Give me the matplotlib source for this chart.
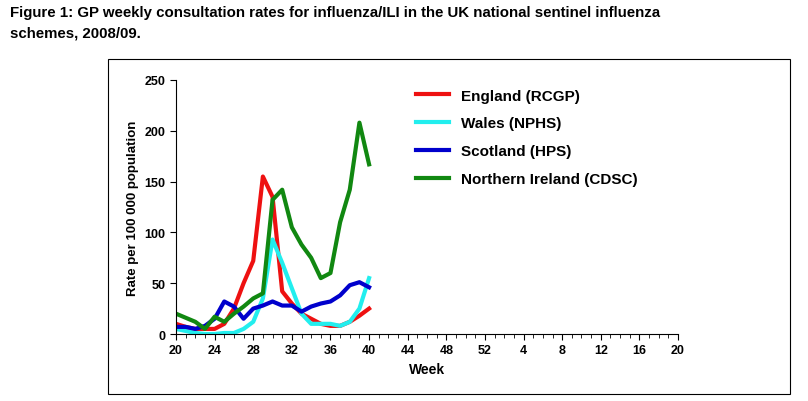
import matplotlib
matplotlib.use("Agg")
import matplotlib.pyplot as plt
from matplotlib.patches import Rectangle

plt.rcParams['font.family'] = ['Liberation Sans', 'DejaVu Sans']

weeks = list(range(20, 41))
england = [10, 7, 5, 5, 5, 10, 25, 50, 72, 155, 135, 42, 30, 20, 15, 10, 8, 8, 12, 18, 25]
wales = [5, 3, 1, 0, 0, 1, 1, 5, 12, 35, 93, 70, 45, 20, 10, 10, 10, 8, 12, 25, 55]
scotland = [7, 7, 5, 8, 15, 32, 27, 15, 25, 28, 32, 28, 28, 22, 27, 30, 32, 38, 48, 51, 46]
nireland = [20, 16, 12, 5, 17, 12, 20, 27, 35, 40, 132, 142, 105, 88, 75, 55, 60, 110, 142, 208, 167]
tick_labels = ["20", "24", "28", "32", "36", "40", "44", "48", "52", "4", "8", "12", "16", "20"]

fig = plt.figure(figsize=(8.08, 4.02), dpi=100)
fig.text(0.012, 0.985, "Figure 1: GP weekly consultation rates for influenza/ILI in the UK national sentinel influenza",
         fontsize=10.8, fontweight="bold", va="top", ha="left")
fig.text(0.012, 0.935, "schemes, 2008/09.", fontsize=10.8, fontweight="bold", va="top", ha="left")
fig.patches.append(Rectangle((108/808, 7/402), 682/808, 335/402, transform=fig.transFigure,
                             fill=False, edgecolor="black", lw=0.8))
ax = fig.add_axes([176/808, 1-335/402, 502/808, 254/402])
x = [w - 20 for w in weeks]
ax.plot(x, england, color="#ee1111", lw=3, label="England (RCGP)")
ax.plot(x, wales, color="#22eeee", lw=3, label="Wales (NPHS)")
ax.plot(x, scotland, color="#0000cc", lw=3, label="Scotland (HPS)")
ax.plot(x, nireland, color="#118811", lw=3, label="Northern Ireland (CDSC)")
ax.set_xlim(0, 52)
ax.set_ylim(0, 250)
ax.set_xticks(range(0, 53, 4))
ax.set_xticklabels(tick_labels)
ax.set_xticks(range(0, 53), minor=True)
ax.set_yticks(range(0, 251, 50))
for s in ["top", "right"]:
    ax.spines[s].set_visible(False)
ax.tick_params(labelsize=9, length=4, direction="out")
ax.tick_params(which="minor", length=3, direction="out")
for lab in ax.get_xticklabels() + ax.get_yticklabels():
    lab.set_fontweight("bold")
ax.set_xlabel("Week", fontsize=10, fontweight="bold")
ax.set_ylabel("Rate per 100 000 population", fontsize=9.5, fontweight="bold")
ax.legend(loc="upper left", bbox_to_anchor=(0.45, 1.02), frameon=False,
          prop={"size": 11, "weight": "bold"}, handlelength=2.2, labelspacing=0.9)
fig.savefig("out.png", dpi=100)
